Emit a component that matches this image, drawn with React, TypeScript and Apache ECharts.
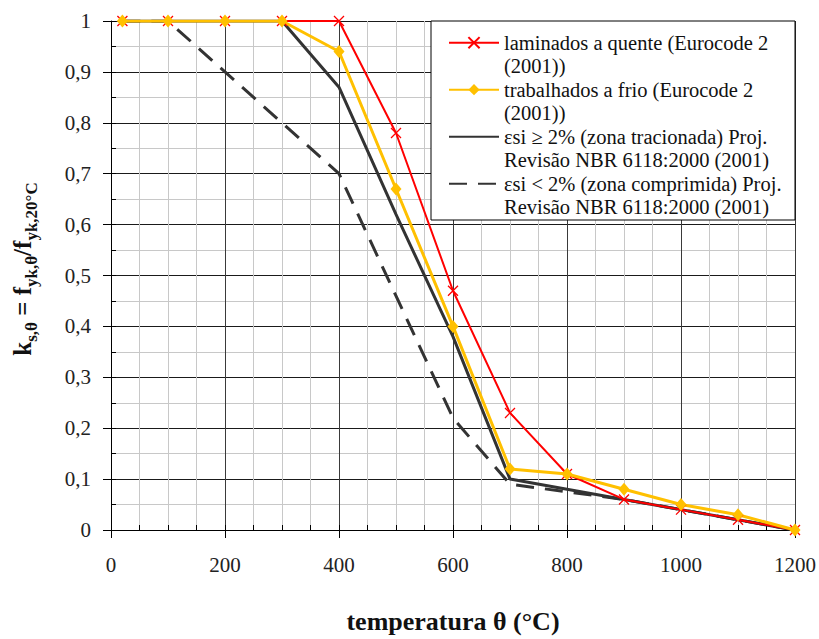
import React, { useEffect, useRef } from "react";
import * as echarts from "echarts";

const temps = [20, 100, 200, 300, 400, 500, 600, 700, 800, 900, 1000, 1100, 1200];
const laminados = [1, 1, 1, 1, 1, 0.78, 0.47, 0.23, 0.11, 0.06, 0.04, 0.02, 0];
const trabalhados = [1, 1, 1, 1, 0.94, 0.67, 0.4, 0.12, 0.11, 0.08, 0.05, 0.03, 0];
const tracionada = [1, 1, 1, 1, 0.87, 0.62, 0.38, 0.1, 0.08, 0.06, 0.04, 0.02, 0];
const comprimida = [1, 1, 0.9, 0.8, 0.7, 0.46, 0.22, 0.09, 0.075, 0.06, 0.04, 0.02, 0];

const names = [
  "laminados a quente (Eurocode 2\n(2001))",
  "trabalhados a frio (Eurocode 2\n(2001))",
  "εsi ≥ 2% (zona tracionada) Proj.\nRevisão NBR 6118:2000 (2001)",
  "εsi < 2% (zona comprimida) Proj.\nRevisão NBR 6118:2000 (2001)",
];

const SERIF = "Liberation Serif";

function pairs(ys: number[]) {
  return temps.map((t, i) => [t, ys[i]]);
}

export default function App() {
  const ref = useRef<HTMLDivElement>(null);
  useEffect(() => {
    if (!ref.current) return;
    const chart = echarts.init(ref.current, null, { renderer: "svg" });
    const lineH = 23.5;
    chart.setOption({
      animation: false,
      backgroundColor: "#fff",
      textStyle: { fontFamily: SERIF },
      grid: { left: 111, right: 24, top: 21, bottom: 102 },
      xAxis: [
        {
          type: "value",
          min: 0,
          max: 1200,
          interval: 200,
          name: "temperatura θ (°C)",
          nameLocation: "middle",
          nameGap: 78,
          nameTextStyle: { fontFamily: SERIF, fontSize: 26, fontWeight: "bold", color: "#111" },
          axisLine: { show: true, lineStyle: { color: "#000", width: 1 } },
          axisTick: { show: true, length: 8, lineStyle: { color: "#000" } },
          axisLabel: { fontFamily: SERIF, fontSize: 21, color: "#222", margin: 24, formatter: (v: number) => String(v) },
          splitLine: { show: true, lineStyle: { color: "#3a3a3a", width: 1 } },
          minorTick: { show: false, splitNumber: 4 },
          minorSplitLine: { show: true, lineStyle: { color: "#c8c8c8", width: 1 } },
        },
        {
          type: "value",
          min: 0,
          max: 1200,
          interval: 50,
          position: "bottom",
          axisLine: { show: false },
          axisTick: { show: true, inside: true, length: 5, lineStyle: { color: "#000" } },
          axisLabel: { show: false },
          splitLine: { show: false },
        },
      ],
      yAxis: [
        {
          type: "value",
          min: 0,
          max: 1,
          interval: 0.1,
          name: "{m|k}{s|s,θ}{m| = f}{s|yk,θ}{m|/f}{s|yk,20°C}",
          nameLocation: "middle",
          nameGap: 76,
          nameRotate: 90,
          nameTextStyle: {
            padding: [0, 0, 0, 13],
            rich: {
              m: { fontFamily: SERIF, fontSize: 25, fontWeight: "bold", color: "#111", lineHeight: 30, verticalAlign: "bottom" },
              s: { fontFamily: SERIF, fontSize: 17, fontWeight: "bold", color: "#111", lineHeight: 30, verticalAlign: "bottom", padding: [0, 0, -5, 0] },
            },
          },
          axisLine: { show: true, lineStyle: { color: "#000", width: 1 } },
          axisTick: { show: true, length: 8, lineStyle: { color: "#000" } },
          axisLabel: {
            fontFamily: SERIF,
            fontSize: 21,
            color: "#222",
            margin: 20,
            formatter: (v: number) => (v === 0 ? "0" : v === 1 ? "1" : v.toFixed(1).replace(".", ",")),
          },
          splitLine: { show: true, lineStyle: { color: "#1a1a1a", width: 1 } },
          minorTick: { show: false, splitNumber: 2 },
          minorSplitLine: { show: true, lineStyle: { color: "#c8c8c8", width: 1 } },
        },
        {
          type: "value",
          min: 0,
          max: 1,
          interval: 0.05,
          position: "left",
          axisLine: { show: false },
          axisTick: { show: true, inside: true, length: 5, lineStyle: { color: "#000" } },
          axisLabel: { show: false },
          splitLine: { show: false },
        },
      ],
      legend: {
        data: [
          { name: names[0] },
          { name: names[1] },
          { name: names[2], itemStyle: { opacity: 0 } },
          { name: names[3], itemStyle: { opacity: 0 } },
        ],
        orient: "vertical",
        left: 448,
        top: 42.7 - (lineH * 3) / 2,
        padding: 0,
        itemWidth: 50,
        itemHeight: 14,
        itemGap: 47 - lineH * 3,
        selectedMode: false,
        formatter: (n: string) => "\n" + n,
        textStyle: {
          fontFamily: SERIF,
          fontSize: 20.5,
          color: "#111",
          lineHeight: lineH,
        },
      },
      graphic: [
        {
          type: "rect",
          z: 3,
          shape: { x: 431, y: 21, width: 364, height: 199 },
          style: { fill: "#fff", stroke: "#000", lineWidth: 1 },
        },
      ],
      series: [
        {
          name: names[3],
          type: "line",
          data: pairs(comprimida),
          symbol: "none",
          lineStyle: { color: "#333", width: 3, type: [18, 11] },
          itemStyle: { color: "#333" },
        },
        {
          name: names[2],
          type: "line",
          data: pairs(tracionada),
          symbol: "none",
          lineStyle: { color: "#333", width: 3 },
          itemStyle: { color: "#333" },
        },
        {
          name: names[0],
          type: "line",
          data: pairs(laminados),
          symbol: "path://M0,0L10,10M10,0L0,10",
          symbolSize: 10,
          lineStyle: { color: "#ff0000", width: 2 },
          itemStyle: { color: "#ff0000", borderColor: "#ff0000", borderWidth: 1.3 },
        },
        {
          name: names[1],
          type: "line",
          data: pairs(trabalhados),
          symbol: "diamond",
          symbolSize: [11, 13],
          lineStyle: { color: "#ffc000", width: 3 },
          itemStyle: { color: "#ffc000", borderWidth: 0 },
        },
      ],
    });
    return () => chart.dispose();
  }, []);
  return (
    <div
      ref={ref}
      style={{ position: "absolute", left: 0, top: 0, width: 819, height: 639 }}
    />
  );
}
